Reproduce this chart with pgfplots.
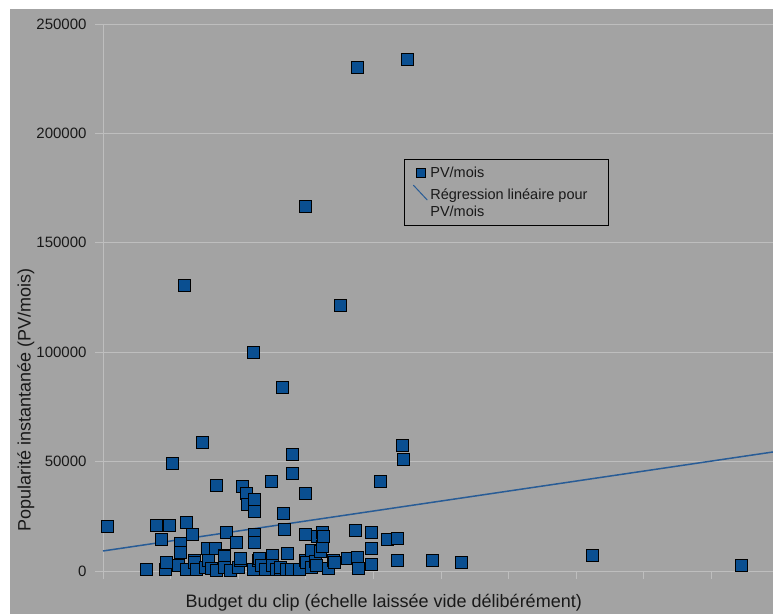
\documentclass[border=0pt]{standalone}
\usepackage{fontspec}
\setmainfont{Liberation Sans}
\usepackage{pgfplots}
\pgfplotsset{compat=1.18}
\definecolor{bg}{RGB}{163,163,163}
\definecolor{gridc}{RGB}{190,190,190}
\definecolor{pvblue}{RGB}{10,79,145}
\definecolor{regblue}{RGB}{40,92,150}
\begin{document}
\begin{tikzpicture}
\useasboundingbox (0,0) rectangle (773pt,614pt);
\fill[white] (0,0) rectangle (773pt,614pt);
\fill[bg] (10pt,0) rectangle (773pt,605pt);
\begin{axis}[
    at={(103pt,43pt)}, anchor=south west,
    scale only axis, width=670pt, height=547pt,
    xmin=0, xmax=9.911, ymin=0, ymax=250000,
    axis x line*=bottom, axis y line*=left,
    axis line style={gridc, line width=1pt, -},
    xtick={0,1,...,9}, xticklabels={},
    ytick={0,50000,100000,150000,200000,250000},
    yticklabels={0,50000,100000,150000,200000,250000},
    ymajorgrids, grid style={gridc, line width=1pt},
    tick style={gridc, line width=1pt},
    tick align=outside, major tick length=8pt,
    scaled y ticks=false,
    yticklabel style={font=\fontsize{15}{18}\selectfont, text=black!90, xshift=-5pt},
    xlabel={Budget du clip (échelle laissée vide délibérément)},
    xlabel style={at={(axis description cs:0.419,-0.0585)}, anchor=center,
        font=\fontsize{18}{21}\selectfont, text=black!90},
    ylabel={Popularité instantanée (PV/mois)},
    ylabel style={at={(axis description cs:-0.115,0.313)}, anchor=center,
        font=\fontsize{18}{21}\selectfont, text=black!90},
    legend style={at={(axis description cs:0.449,0.753)}, anchor=north west,
        draw=black, line width=1pt, fill=none, inner xsep=0pt, inner ysep=5pt,
        row sep=4pt,
        font=\fontsize{14.5}{17}\selectfont, text=black!90,
        cells={align=left, anchor=west}},
    clip=false,
]
% regression line (drawn behind the points)
\addplot[regblue, line width=1.5pt, forget plot] coordinates {
    (0,9150) (9.911,54400)
};
\addplot[only marks, mark=square*, mark size=6pt,
    mark options={fill=pvblue, draw=black, line width=1pt},
    legend image code/.code={\path[draw=none] (0pt,0pt) -- (24pt,0pt);
        \path[draw=black, fill=pvblue, line width=1pt]
        (12.5pt,-4.5pt) rectangle (21.5pt,4.5pt);}]
coordinates {
(0.07,20300) (0.65,500) (0.79,20600) (0.87,14500) (0.92,500) (0.94,3700)
(0.99,21000) (1.03,49300) (1.11,2700) (1.14,12700) (1.15,8600) (1.21,130400)
(1.24,22100) (1.24,500) (1.33,16500) (1.36,5000) (1.36,4100) (1.39,500)
(1.47,58900) (1.51,1400) (1.55,10500) (1.56,5000) (1.61,1200) (1.66,10500)
(1.68,39300) (1.68,200) (1.79,7300) (1.80,6500) (1.80,1400) (1.82,17400)
(1.89,200) (1.98,12800) (2.00,1400) (2.03,5000) (2.04,5900) (2.06,38600)
(2.13,35500) (2.14,30600) (2.22,500) (2.23,99700) (2.24,32900) (2.24,27100)
(2.24,16500) (2.24,12800) (2.30,4700) (2.31,5500) (2.35,2300) (2.40,500)
(2.49,40800) (2.50,7300) (2.50,2300) (2.57,500) (2.62,500) (2.62,1800)
(2.65,83700) (2.67,26100) (2.69,18800) (2.72,500) (2.73,8100) (2.79,500)
(2.80,53400) (2.80,44400) (2.91,500) (2.99,16500) (2.99,5000) (3.00,166500)
(3.00,35500) (3.01,3700) (3.09,9600) (3.09,1400) (3.14,4300) (3.16,2700)
(3.18,15700) (3.21,8700) (3.24,17800) (3.24,11100) (3.26,15700) (3.33,1200)
(3.41,5000) (3.43,4100) (3.51,121200) (3.61,5800) (3.74,18400) (3.76,230000)
(3.77,6100) (3.78,1200) (3.97,17700) (3.97,10400) (3.97,3200) (4.11,40800)
(4.21,14500) (4.36,15000) (4.36,4600) (4.43,57200) (4.45,50800) (4.50,234000)
(4.87,4800) (5.30,3800) (7.24,7000) (9.45,2700)
};
\addlegendentry{PV/mois}
\addlegendimage{legend image code/.code={\path[draw=none] (0pt,0pt) -- (24pt,0pt);
    \path[draw=regblue, line width=1pt] (9pt,18.5pt) -- (23pt,3.5pt);}}
\addlegendentry{Régression linéaire pour\hspace*{19pt}\\PV/mois\rule[-7pt]{0pt}{0pt}}
\end{axis}
\end{tikzpicture}
\end{document}
